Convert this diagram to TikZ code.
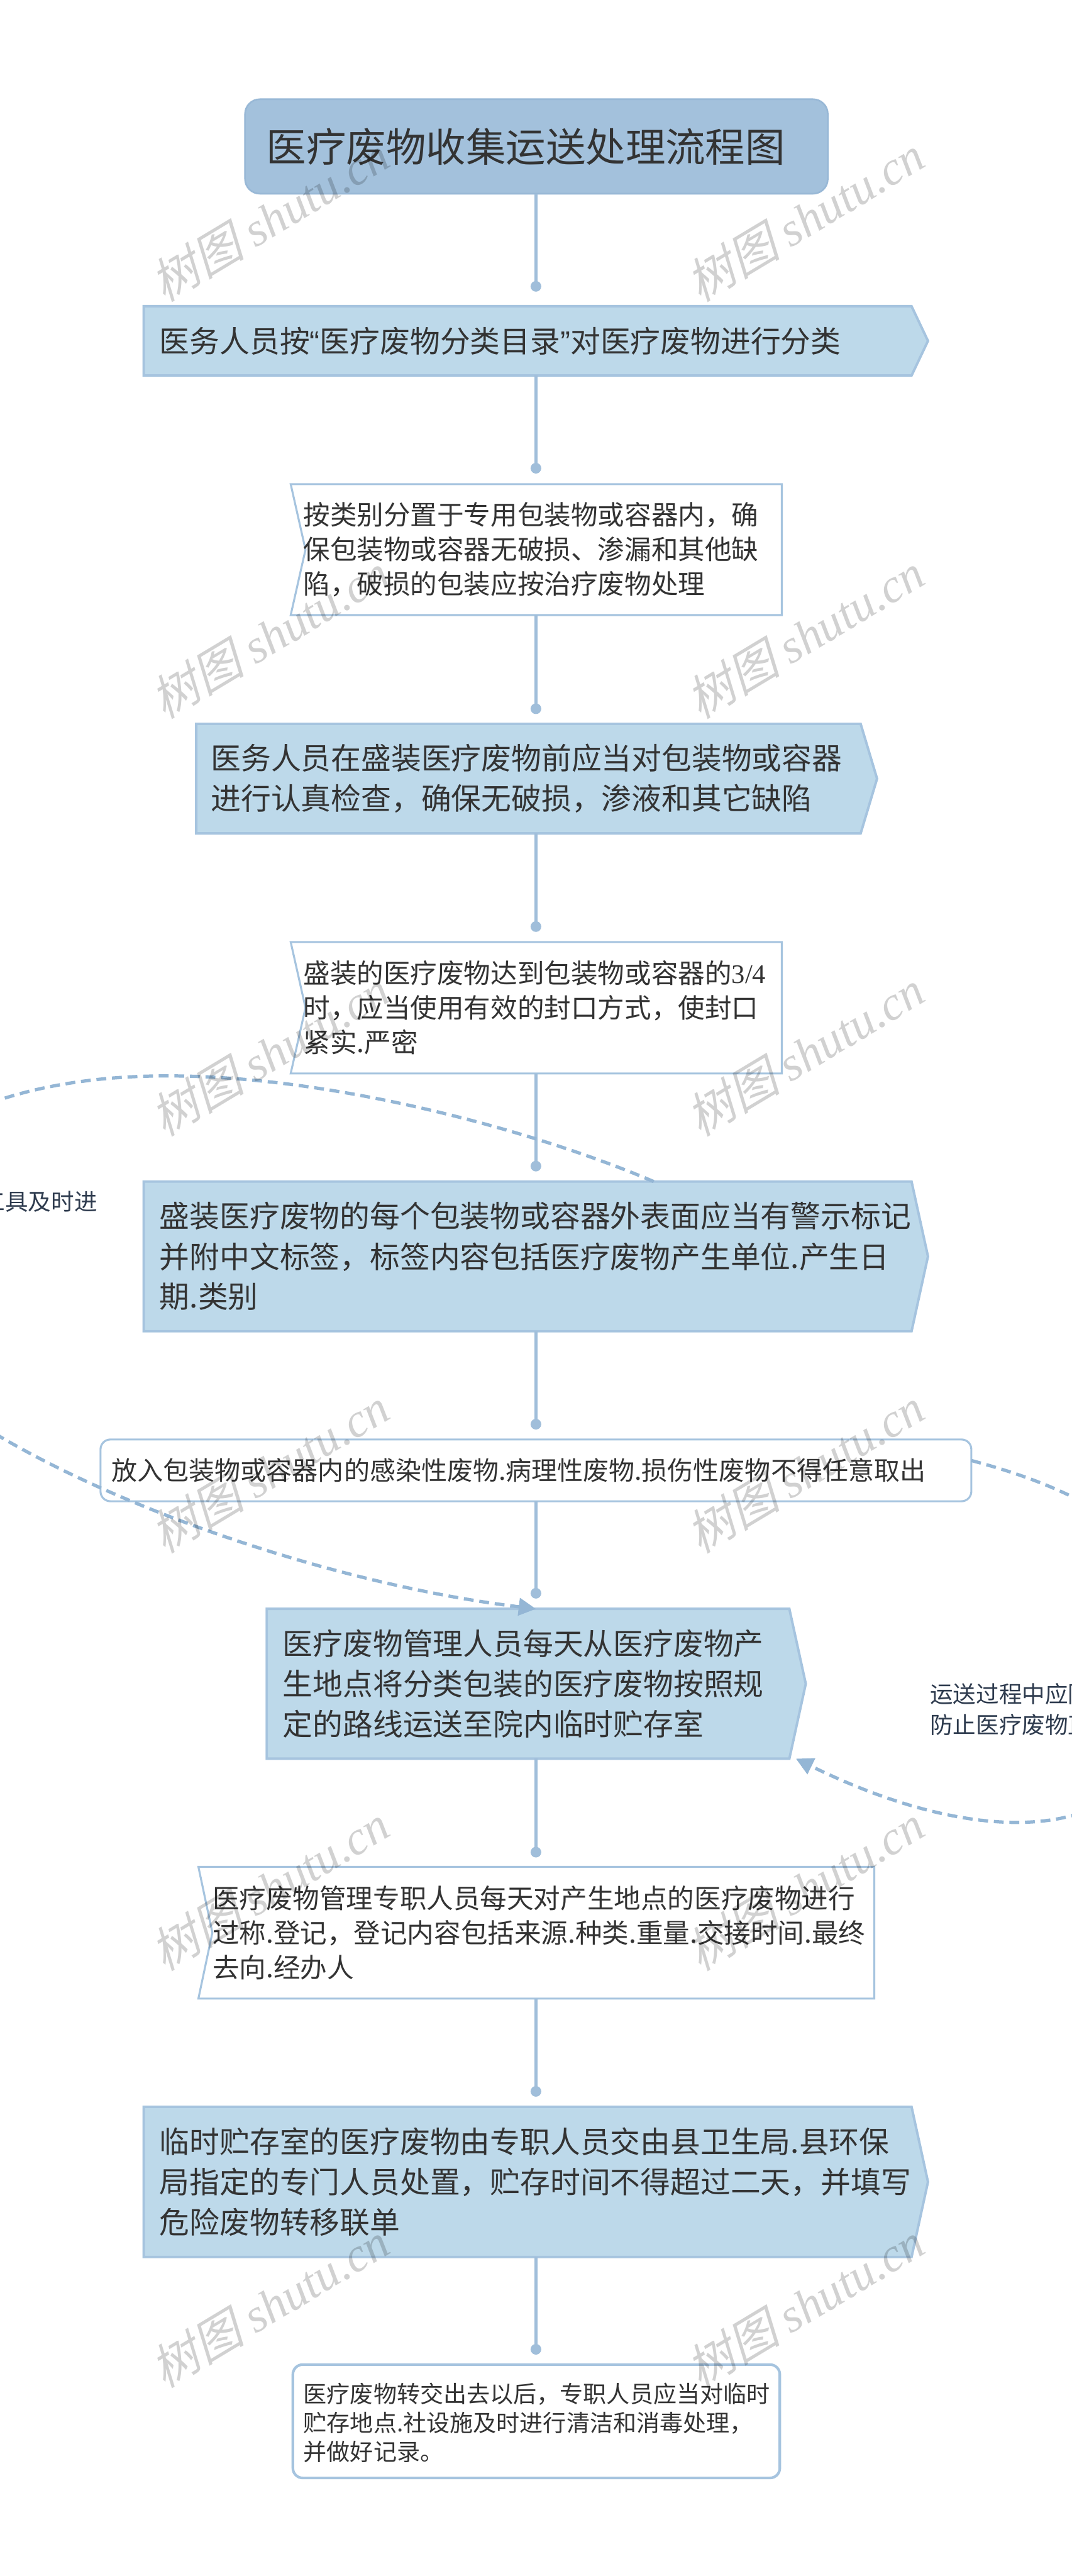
\documentclass[tikz,border=0pt]{standalone}
\usepackage{fontspec}
\setmainfont{Noto Sans CJK SC}
\newfontfamily\wmcjk[FakeSlant=0.25]{Noto Sans CJK SC}
\newfontfamily\serlat{Liberation Serif}
\newfontfamily\qfont{Liberation Sans}
\usetikzlibrary{arrows.meta}
\definecolor{titlefill}{HTML}{A3C1DC}
\definecolor{titleline}{HTML}{98B8D6}
\definecolor{boxfill}{HTML}{BDD9EA}
\definecolor{boxline}{HTML}{A6C4DF}
\definecolor{connc}{HTML}{A0BEDA}
\definecolor{dashc}{HTML}{94B6D5}
\definecolor{txt}{HTML}{333333}
\definecolor{lbl}{HTML}{2E3B4E}
\begin{document}
\begin{tikzpicture}[x=1pt,y=-1pt,
 anch/.style={draw=none,inner sep=0pt,outer sep=0pt,anchor=north west},
 fshape/.style={fill=boxfill,draw=boxline,line width=1.5pt},
 wshape/.style={fill=white,draw=boxline,line width=1.2pt},
 bigtxt/.style={inner sep=0pt,anchor=west,align=left,text=txt,font=\fontsize{18.3pt}{24.5pt}\selectfont},
 midtxt/.style={inner sep=0pt,anchor=west,align=left,text=txt,font=\fontsize{16.3pt}{21pt}\selectfont},
 conn/.style={draw=connc,line width=2pt},
 dotn/.style={circle,fill=connc,draw=none,inner sep=0pt,minimum size=6.5pt},
 rel/.style={draw=dashc,line width=2pt,dash pattern=on 6pt off 3.5pt,-{Triangle[length=10.5pt,width=10.5pt]}},
 lbltxt/.style={inner sep=0pt,align=left,text=lbl,font=\fontsize{14pt}{19pt}\selectfont},
 wm/.style={rotate=31,inner sep=0pt,text=black,opacity=0.18,font=\fontsize{29pt}{29pt}\selectfont}]
\useasboundingbox (0,0) rectangle (652.6,1568);
\clip (0,0) rectangle (652.6,1568);
\fill[white] (0,0) rectangle (652.6,1568);
\coordinate (spine) at (326.3,0);

% title
\node[anch,draw=titleline,fill=titlefill,line width=1pt,rounded corners=9pt,minimum width=354.8pt,minimum height=57.5pt] (title) at (149.2,60.4) {};
\node[inner sep=0pt,anchor=west,text=txt,font=\fontsize{24.3pt}{28pt}\selectfont] (ttl) at (162,89.2) {医疗废物收集运送处理流程图};

% box anchors
\node[anch,minimum width=477.5pt,minimum height=42.2pt] (b1) at (87.5,186.4) {};
\node[anch,minimum width=299pt,minimum height=79.7pt] (b2) at (177,294.7) {};
\node[anch,minimum width=414.5pt,minimum height=66.7pt] (b3) at (119.5,440.6) {};
\node[anch,minimum width=299pt,minimum height=80pt] (b4) at (177,573.4) {};
\node[anch,minimum width=477.5pt,minimum height=91.1pt] (b5) at (87.5,719.2) {};
\node[anch,draw=boxline,fill=white,line width=1.2pt,rounded corners=6pt,minimum width=530.2pt,minimum height=37.6pt] (b6) at (61.2,876.2) {};
\node[anch,minimum width=328.2pt,minimum height=91.2pt] (b7) at (162.4,979.3) {};
\node[anch,minimum width=411.5pt,minimum height=80.2pt] (b8) at (120.8,1136.3) {};
\node[anch,minimum width=477.5pt,minimum height=91.4pt] (b9) at (87.5,1282.4) {};
\node[anch,draw=boxline,fill=white,line width=1.6pt,rounded corners=6pt,minimum width=296.5pt,minimum height=69pt] (b10) at (178.3,1439.3) {};

% filled arrow boxes
\foreach \b in {b1,b3,b5,b7,b9}{
 \draw[fshape] (\b.north west) -- ([xshift=-10pt]\b.north east) -- (\b.east) -- ([xshift=-10pt]\b.south east) -- (\b.south west) -- cycle;
}
% white notched boxes
\draw[wshape] (b2.north west) -- (b2.north east) -- (b2.south east) -- (b2.south west) -- ([xshift=9pt]b2.west) -- cycle;
\draw[wshape] (b4.north west) -- (b4.north east) -- (b4.south east) -- (b4.south west) -- ([xshift=9pt]b4.west) -- cycle;
\draw[wshape] (b8.north west) -- (b8.north east) -- (b8.south east) -- (b8.south west) -- ([xshift=8.5pt]b8.west) -- cycle;

% dots and connectors
\node[dotn] (d1) at (326.3,174.3) {};
\node[dotn] (d2) at (326.3,285) {};
\node[dotn] (d3) at (326.3,431.4) {};
\node[dotn] (d4) at (326.3,564) {};
\node[dotn] (d5) at (326.3,709.8) {};
\node[dotn] (d6) at (326.3,866.9) {};
\node[dotn] (d7) at (326.3,969.8) {};
\node[dotn] (d8) at (326.3,1127.4) {};
\node[dotn] (d9) at (326.3,1273) {};
\node[dotn] (d10) at (326.3,1430) {};
\draw[conn] (title.south -| spine) -- (d1.center);
\draw[conn] (b1.south -| spine) -- (d2.center);
\draw[conn] (b2.south -| spine) -- (d3.center);
\draw[conn] (b3.south -| spine) -- (d4.center);
\draw[conn] (b4.south -| spine) -- (d5.center);
\draw[conn] (b5.south -| spine) -- (d6.center);
\draw[conn] (b6.south -| spine) -- (d7.center);
\draw[conn] (b7.south -| spine) -- (d8.center);
\draw[conn] (b8.south -| spine) -- (d9.center);
\draw[conn] (b9.south -| spine) -- (d10.center);

% texts
\node[bigtxt] (t1) at ([xshift=9.5pt]b1.west) {医务人员按{\qfont “}医疗废物分类目录{\qfont ”}对医疗废物进行分类};
\node[midtxt] (t2) at ([xshift=7.5pt]b2.west) {按类别分置于专用包装物或容器内，确\\保包装物或容器无破损、渗漏和其他缺\\陷，破损的包装应按治疗废物处理};
\node[bigtxt] (t3) at ([xshift=8.7pt]b3.west) {医务人员在盛装医疗废物前应当对包装物或容器\\进行认真检查，确保无破损，渗液和其它缺陷};
\node[midtxt] (t4) at ([xshift=7.5pt]b4.west) {盛装的医疗废物达到包装物或容器的{\serlat 3/4}\\时，应当使用有效的封口方式，使封口\\紧实.严密};
\node[bigtxt] (t5) at ([xshift=9.5pt]b5.west) {盛装医疗废物的每个包装物或容器外表面应当有警示标记\\并附中文标签，标签内容包括医疗废物产生单位.产生日\\期.类别};
\node[midtxt,font=\fontsize{15.7pt}{20pt}\selectfont] (t6) at ([xshift=6.7pt]b6.west) {放入包装物或容器内的感染性废物.病理性废物.损伤性废物不得任意取出};
\node[bigtxt] (t7) at ([xshift=9.6pt]b7.west) {医疗废物管理人员每天从医疗废物产\\生地点将分类包装的医疗废物按照规\\定的路线运送至院内临时贮存室};
\node[midtxt] (t8) at ([xshift=8.4pt]b8.west) {医疗废物管理专职人员每天对产生地点的医疗废物进行\\过称.登记，登记内容包括来源.种类.重量.交接时间.最终\\去向.经办人};
\node[bigtxt] (t9) at ([xshift=9.5pt]b9.west) {临时贮存室的医疗废物由专职人员交由县卫生局.县环保\\局指定的专门人员处置，贮存时间不得超过二天，并填写\\危险废物转移联单};
\node[midtxt,font=\fontsize{14.2pt}{17.7pt}\selectfont] (t10) at ([xshift=6.3pt,yshift=-1pt]b10.west) {医疗废物转交出去以后，专职人员应当对临时\\贮存地点.社设施及时进行清洁和消毒处理，\\并做好记录。};

% relation curves
\draw[rel] ([xshift=310.5pt]b5.north west) .. controls (330,690) and (200,652.6) .. (92,655) .. controls (0,657) and (-90,690) .. (-90,775) .. controls (-90,860) and (150,958) .. (b7.north -| spine);
\draw[rel] ([yshift=6pt]b6.east) .. controls (640,902) and (720,930) .. (720,1000) .. controls (720,1125) and (610,1132) .. ([xshift=-6pt]b7.south east);

% relation labels (cut by the page edge)
\node[lbltxt,anchor=east] (la) at (59.4,731.6) {运送工具及时进};
\node[lbltxt,anchor=west] (lb) at (566.1,1040.5) {运送过程中应防止造成\\防止医疗废物直接接触};

% watermarks
\foreach \yy [count=\i] in {133,387,641,895,1149,1403}{
 \node[wm] (wml\i) at (164,\yy) {{\wmcjk 树图} {\serlat\itshape shutu.cn}};
 \node[wm] (wmr\i) at (490,\yy) {{\wmcjk 树图} {\serlat\itshape shutu.cn}};
}
\end{tikzpicture}
\end{document}
